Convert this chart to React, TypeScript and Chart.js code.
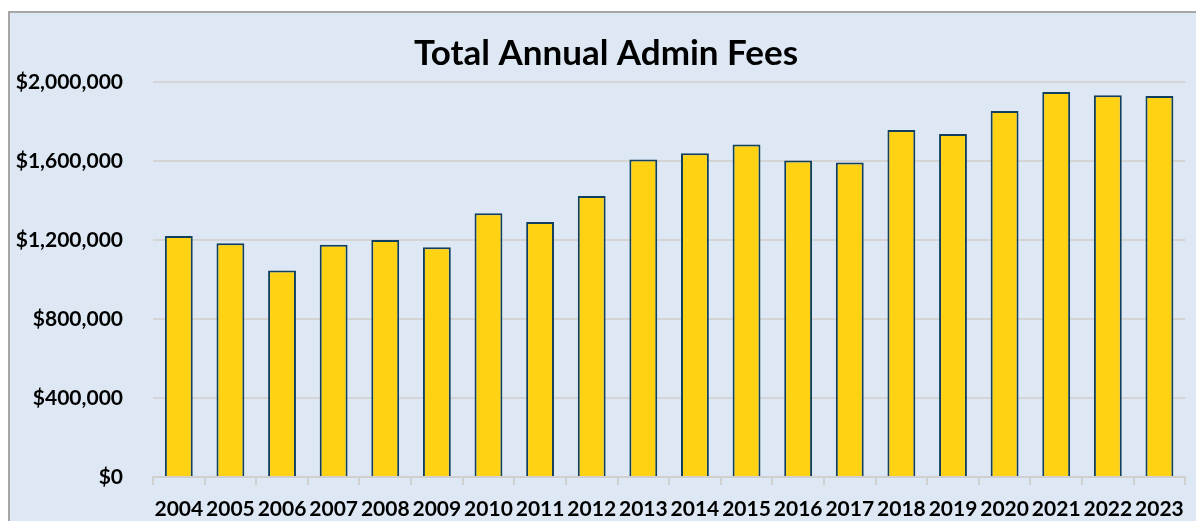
import React, { useEffect, useRef } from "react";
import { Chart, registerables } from "chart.js";

Chart.register(...registerables);

const years = ["2004","2005","2006","2007","2008","2009","2010","2011","2012","2013","2014","2015","2016","2017","2018","2019","2020","2021","2022","2023"];
const fees = [1220000,1183000,1045000,1176000,1200000,1163000,1335000,1291000,1423000,1608000,1639000,1683000,1602000,1592000,1757000,1737000,1853000,1949000,1933000,1929000];
const yTicks = [0, 400000, 800000, 1200000, 1600000, 2000000];
const titleText = "Total Annual Admin Fees";

const titleShift = {
  id: "titleShift",
  afterLayout(chart: any) {
    const t = chart.titleBlock;
    if (t) { t.left += 14; t.right += 0; }
  },
};

export default function App() {
  const ref = useRef<HTMLCanvasElement>(null);
  useEffect(() => {
    if (!ref.current) return;
    const font = "Lato, 'Open Sans', sans-serif";
    const chart = new Chart(ref.current, {
      type: "bar",
      data: {
        labels: years,
        datasets: [{
          data: fees,
          backgroundColor: "#FFD314",
          borderColor: "#123F5E",
          borderWidth: 2,
          barPercentage: 0.54,
          categoryPercentage: 1,
        }],
      },
      options: {
        animation: false,
        responsive: false,
        maintainAspectRatio: false,
        layout: { padding: { left: 0, right: 8, top: 0, bottom: 0 } },
        plugins: {
          legend: { display: false },
          tooltip: { enabled: false },
          title: {
            display: true,
            text: titleText,
            color: "#000",
            font: { family: font, size: 35, weight: "bold" },
            padding: { top: 20, bottom: 7 },
          },
        },
        scales: {
          x: {
            offset: true,
            afterFit: (s: any) => { s.height = 44; },
            grid: { drawOnChartArea: false, drawTicks: true, tickLength: 8, color: "#D0D0D0", lineWidth: 2 },
            border: { display: true, color: "#D0D0D0", width: 2 },
            ticks: { color: "#000", font: { family: font, size: 21, weight: "bold" }, padding: 12, maxRotation: 0, autoSkip: false },
          },
          y: {
            min: 0,
            max: 2000000,
            afterFit: (s: any) => { s.width = 143; },
            afterBuildTicks: (s: any) => { s.ticks = yTicks.map((v) => ({ value: v })); },
            grid: { color: "#D4D4D4", lineWidth: 2, drawTicks: false },
            border: { display: false },
            ticks: {
              color: "#000",
              padding: 30,
              font: { family: font, size: 21, weight: "bold" },
              callback: (v: any) => "$" + Number(v).toLocaleString("en-US"),
            },
          },
        },
      },
      plugins: [titleShift],
    });
    return () => chart.destroy();
  }, []);
  return (
    <div style={{ position: "fixed", left: 8, top: 11, width: 1200, height: 520, borderTop: "2px solid #A6A6A6", borderLeft: "2px solid #A6A6A6", background: "#DDE8F4" }}>
      <canvas ref={ref} width={1186} height={508} style={{ display: "block" }} />
    </div>
  );
}
